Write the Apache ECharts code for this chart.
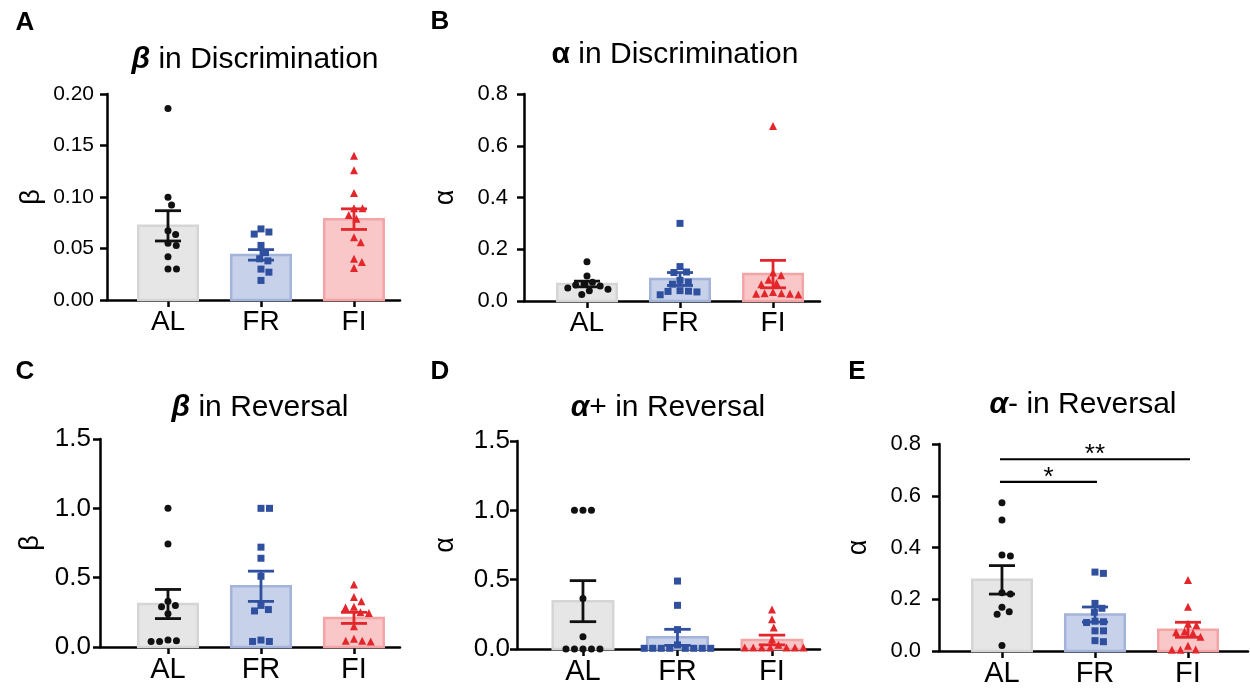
<!DOCTYPE html>
<html><head><meta charset="utf-8">
<script src="https://cdn.jsdelivr.net/npm/echarts@6/dist/echarts.min.js"></script>
<style>html,body{margin:0;padding:0;background:#fff}#c{width:1250px;height:688px}</style>
</head><body><div id="c"></div>
<script>
const categories = ['AL', 'FR', 'FI'];

// Panel A: beta in Discrimination
const A_AL = [0.186, 0.0997, 0.0922, 0.0673, 0.0637, 0.055, 0.053, 0.042, 0.030, 0.030];
const A_FR = [0.069, 0.066, 0.064, 0.053, 0.046, 0.040, 0.038, 0.030, 0.027, 0.019];
const A_FI = [0.140, 0.126, 0.104, 0.089, 0.089, 0.0825, 0.079, 0.061, 0.056, 0.040, 0.037, 0.031];
const A_mean = [0.072, 0.0438, 0.0785];
const A_sem = [0.0147, 0.0051, 0.0100];
const A_ticks = [0, 0.05, 0.10, 0.15, 0.20];

// Panel B: alpha in Discrimination
const B_AL = [0.152, 0.097, 0.072, 0.066, 0.062, 0.058, 0.050, 0.045, 0.040, 0.025];
const B_FR = [0.300, 0.133, 0.112, 0.110, 0.080, 0.073, 0.065, 0.040, 0.038, 0.037, 0.035, 0.024];
const B_FI = [0.676, 0.110, 0.100, 0.082, 0.070, 0.065, 0.035, 0.030, 0.028, 0.028, 0.025, 0.030];
const B_mean = [0.0657, 0.085, 0.104];
const B_sem = [0.011, 0.025, 0.053];
const B_ticks = [0, 0.2, 0.4, 0.6, 0.8];

// Panel C: beta in Reversal
const C_AL = [1.0, 0.743, 0.33, 0.30, 0.29, 0.24, 0.05, 0.04, 0.04, 0.045];
const C_FR = [1.0, 1.0, 0.72, 0.64, 0.51, 0.30, 0.27, 0.26, 0.05, 0.04, 0.04];
const C_FI = [0.45, 0.36, 0.33, 0.29, 0.285, 0.25, 0.245, 0.15, 0.06, 0.045, 0.045, 0.04];
const C_mean = [0.31, 0.438, 0.21];
const C_sem = [0.105, 0.109, 0.040];
const C_ticks = [0, 0.5, 1.0, 1.5];

// Panel D: alpha+ in Reversal
const D_AL = [1.0, 1.0, 1.0, 0.365, 0.089, 0, 0, 0, 0, 0];
const D_FR = [0.49, 0.315, 0.14, 0.03, 0.005, 0.005, 0.005, 0.005, 0.005, 0.005, 0.005, 0.005];
const D_FI = [0.285, 0.215, 0.155, 0.07, 0.03, 0.01, 0.01, 0.01, 0.01, 0.01, 0.01, 0.01];
const D_mean = [0.345, 0.084, 0.065];
const D_sem = [0.148, 0.058, 0.035];
const D_ticks = [0, 0.5, 1.0, 1.5];

// Panel E: alpha- in Reversal
const E_AL = [0.573, 0.506, 0.371, 0.367, 0.225, 0.22, 0.169, 0.152, 0.142, 0.021];
const E_FR = [0.305, 0.30, 0.184, 0.165, 0.15, 0.115, 0.113, 0.11, 0.078, 0.078, 0.04, 0.036];
const E_FI = [0.274, 0.171, 0.105, 0.10, 0.075, 0.072, 0.07, 0.055, 0.02, 0.006, 0.005, 0.005];
const E_mean = [0.275, 0.141, 0.082];
const E_sem = [0.055, 0.029, 0.029];
const E_ticks = [0, 0.2, 0.4, 0.6, 0.8];
const E_sig_from = [0, 0];
const E_sig_to = [1, 2];
const E_sig_y = [0.654, 0.741];
const E_sig_label = ['*', '**'];

// ---------- styling / layout ----------
const FONT = '"Liberation Sans", Arial, Helvetica, sans-serif';
const fills = ['#e6e6e6', '#c8d1ea', '#f9c7c8'];
const strokes = ['#d5d5d5', '#a3b3da', '#f3a4a6'];
const markColors = ['#111111', '#2f4f9f', '#e3262b'];
const symbols = ['circle', 'rect', 'triangle'];
const symSizes = [7, 7, 8];

const panels = [
  {pts: [A_AL, A_FR, A_FI], mean: A_mean, sem: A_sem, ticks: A_ticks, dec: 2, name: 'β',
   grid: {left: 107, top: 94, width: 293, height: 206}, xMin: -0.656, xMax: 2.495, nameGap: 62, tickFont: 21, tickMargin: 13, catFont: 28},
  {pts: [B_AL, B_FR, B_FI], mean: B_mean, sem: B_sem, ticks: B_ticks, dec: 1, name: 'α',
   grid: {left: 524, top: 94, width: 296, height: 207}, xMin: -0.677, xMax: 2.505, nameGap: 65, tickFont: 22, tickMargin: 16, catFont: 28},
  {pts: [C_AL, C_FR, C_FI], mean: C_mean, sem: C_sem, ticks: C_ticks, dec: 1, name: 'β',
   grid: {left: 100, top: 439, width: 300, height: 208}, xMin: -0.731, xMax: 2.495, nameGap: 56, tickFont: 26, tickMargin: 9, catFont: 29},
  {pts: [D_AL, D_FR, D_FI], mean: D_mean, sem: D_sem, ticks: D_ticks, dec: 1, name: 'α',
   grid: {left: 517, top: 441, width: 303, height: 208}, xMin: -0.698, xMax: 2.508, nameGap: 58, tickFont: 26, tickMargin: 7, catFont: 29},
  {pts: [E_AL, E_FR, E_FI], mean: E_mean, sem: E_sem, ticks: E_ticks, dec: 1, name: 'α',
   grid: {left: 939, top: 444, width: 309, height: 207}, xMin: -0.677, xMax: 2.645, nameGap: 67, tickFont: 22, tickMargin: 18, catFont: 29}
];

function swarm(vals, ppu, d) {
  const order = vals.map((v, i) => i).sort((a, b) => vals[b] - vals[a]);
  const off = new Array(vals.length).fill(0);
  const placed = [];
  for (const i of order) {
    const y = vals[i] * ppu;
    const ivs = [];
    for (const p of placed) {
      const dy = Math.abs(p.y - y);
      if (dy < d) { const w = Math.sqrt(d * d - dy * dy); ivs.push([p.x - w, p.x + w]); }
    }
    const cands = [0];
    ivs.forEach(iv => { cands.push(iv[0], iv[1]); });
    const ok = cands.filter(c => ivs.every(iv => c <= iv[0] + 1e-6 || c >= iv[1] - 1e-6));
    ok.sort((a, b) => Math.abs(a) - Math.abs(b) || b - a);
    const x = ok[0];
    off[i] = x;
    placed.push({x, y});
  }
  return off;
}

const grids = [], xAxes = [], yAxes = [], series = [];
panels.forEach((p, k) => {
  const yMax = p.ticks[p.ticks.length - 1];
  grids.push(Object.assign({containLabel: false}, p.grid));
  xAxes.push({
    type: 'value', gridIndex: k, min: p.xMin, max: p.xMax,
    axisLine: {show: true, onZero: false, lineStyle: {color: '#000', width: 2.5}},
    axisTick: {show: true, customValues: [0, 1, 2], length: 7, lineStyle: {color: '#000', width: 2.5}},
    axisLabel: {show: true, customValues: [0, 1, 2], formatter: v => categories[Math.round(v)],
      color: '#000', fontFamily: FONT, fontSize: p.catFont, margin: 8},
    splitLine: {show: false}
  });
  yAxes.push({
    type: 'value', gridIndex: k, min: 0, max: yMax, interval: p.ticks[1] - p.ticks[0],
    name: p.name, nameLocation: 'middle', nameRotate: 90, nameGap: p.nameGap,
    nameTextStyle: {color: '#000', fontFamily: FONT, fontSize: 27},
    axisLine: {show: true, onZero: false, lineStyle: {color: '#000', width: 2.5}},
    axisTick: {show: true, length: 7, lineStyle: {color: '#000', width: 2.5}},
    axisLabel: {color: '#000', fontFamily: FONT, fontSize: p.tickFont, margin: p.tickMargin,
      formatter: v => v.toFixed(p.dec)},
    splitLine: {show: false}
  });
  // bars
  series.push({
    type: 'custom', xAxisIndex: k, yAxisIndex: k, z: 1, silent: true,
    data: p.mean.map((m, i) => [i, m]),
    renderItem: (params, api) => {
      const i = api.value(0);
      const tl = api.coord([i - 0.32, api.value(1)]);
      const br = api.coord([i + 0.32, 0]);
      return {type: 'rect', shape: {x: tl[0], y: tl[1], width: br[0] - tl[0], height: br[1] - tl[1]},
        style: {fill: fills[i], stroke: strokes[i], lineWidth: 2.5}};
    }
  });
  // points
  const ppu = p.grid.height / yMax;
  p.pts.forEach((vals, gi) => {
    const off = swarm(vals, ppu, 8.5);
    series.push({
      type: 'scatter', xAxisIndex: k, yAxisIndex: k, z: 2, silent: true,
      symbol: symbols[gi], symbolSize: symSizes[gi],
      itemStyle: {color: markColors[gi], opacity: 1},
      data: vals.map((v, j) => ({value: [gi, v], symbolOffset: [off[j], 0]}))
    });
  });
  // error bars (mean +/- SEM)
  series.push({
    type: 'custom', xAxisIndex: k, yAxisIndex: k, z: 3, silent: true,
    data: p.mean.map((m, i) => [i, m, p.sem[i]]),
    renderItem: (params, api) => {
      const i = api.value(0), m = api.value(1), s = api.value(2);
      const top = api.coord([i, m + s]), bot = api.coord([i, m - s]);
      const hw = api.size([0.14, 0])[0];
      const st = {stroke: markColors[i], lineWidth: 2.8};
      return {type: 'group', children: [
        {type: 'line', shape: {x1: top[0], y1: top[1], x2: bot[0], y2: bot[1]}, style: st},
        {type: 'line', shape: {x1: top[0] - hw, y1: top[1], x2: top[0] + hw, y2: top[1]}, style: st},
        {type: 'line', shape: {x1: bot[0] - hw, y1: bot[1], x2: bot[0] + hw, y2: bot[1]}, style: st}
      ]};
    }
  });
});

// significance bars on panel E
series.push({
  type: 'custom', xAxisIndex: 4, yAxisIndex: 4, z: 4, silent: true,
  data: E_sig_y.map((y, i) => [E_sig_from[i], E_sig_to[i], y, i]),
  renderItem: (params, api) => {
    const a = api.coord([api.value(0), api.value(2)]);
    const b = api.coord([api.value(1), api.value(2)]);
    return {type: 'group', children: [
      {type: 'line', shape: {x1: a[0] - 2, y1: a[1], x2: b[0] + 2, y2: b[1]}, style: {stroke: '#000', lineWidth: 2.2}},
      {type: 'text', x: (a[0] + b[0]) / 2, y: a[1] + 9,
        style: {text: E_sig_label[api.value(3)], textAlign: 'center', textVerticalAlign: 'bottom',
          font: '26px ' + FONT, fill: '#000'}}
    ]};
  }
});

const titleRich = {
  gi: {fontStyle: 'italic', fontWeight: 'bold', fontSize: 30, fontFamily: FONT, fill: '#000'},
  gb: {fontWeight: 'bold', fontSize: 30, fontFamily: FONT, fill: '#000'},
  t: {fontSize: 30, fontFamily: FONT, fill: '#000'}
};
function title(x, y, txt) {
  return {type: 'text', x, y, style: {text: txt, rich: titleRich, textAlign: 'center', textVerticalAlign: 'middle',
    font: '30px ' + FONT, fill: '#000'}};
}
function letter(x, y, txt) {
  return {type: 'text', x, y, style: {text: txt, textAlign: 'center', textVerticalAlign: 'middle',
    font: 'bold 26px ' + FONT, fill: '#000'}};
}

const chart = echarts.init(document.getElementById('c'), null, {renderer: 'canvas'});
chart.setOption({
  animation: false,
  backgroundColor: '#fff',
  grid: grids, xAxis: xAxes, yAxis: yAxes, series,
  graphic: [
    letter(25, 23, 'A'), letter(440, 22, 'B'), letter(25, 372, 'C'), letter(440, 372, 'D'), letter(857, 372, 'E'),
    title(255, 60, '{gi|β}{t| in Discrimination}'),
    title(675, 55, '{gb|α}{t| in Discrimination}'),
    title(260, 408, '{gi|β}{t| in Reversal}'),
    title(668, 408, '{gi|α}{t|+ in Reversal}'),
    title(1083, 405, '{gi|α}{t|- in Reversal}')
  ]
});
</script></body></html>
